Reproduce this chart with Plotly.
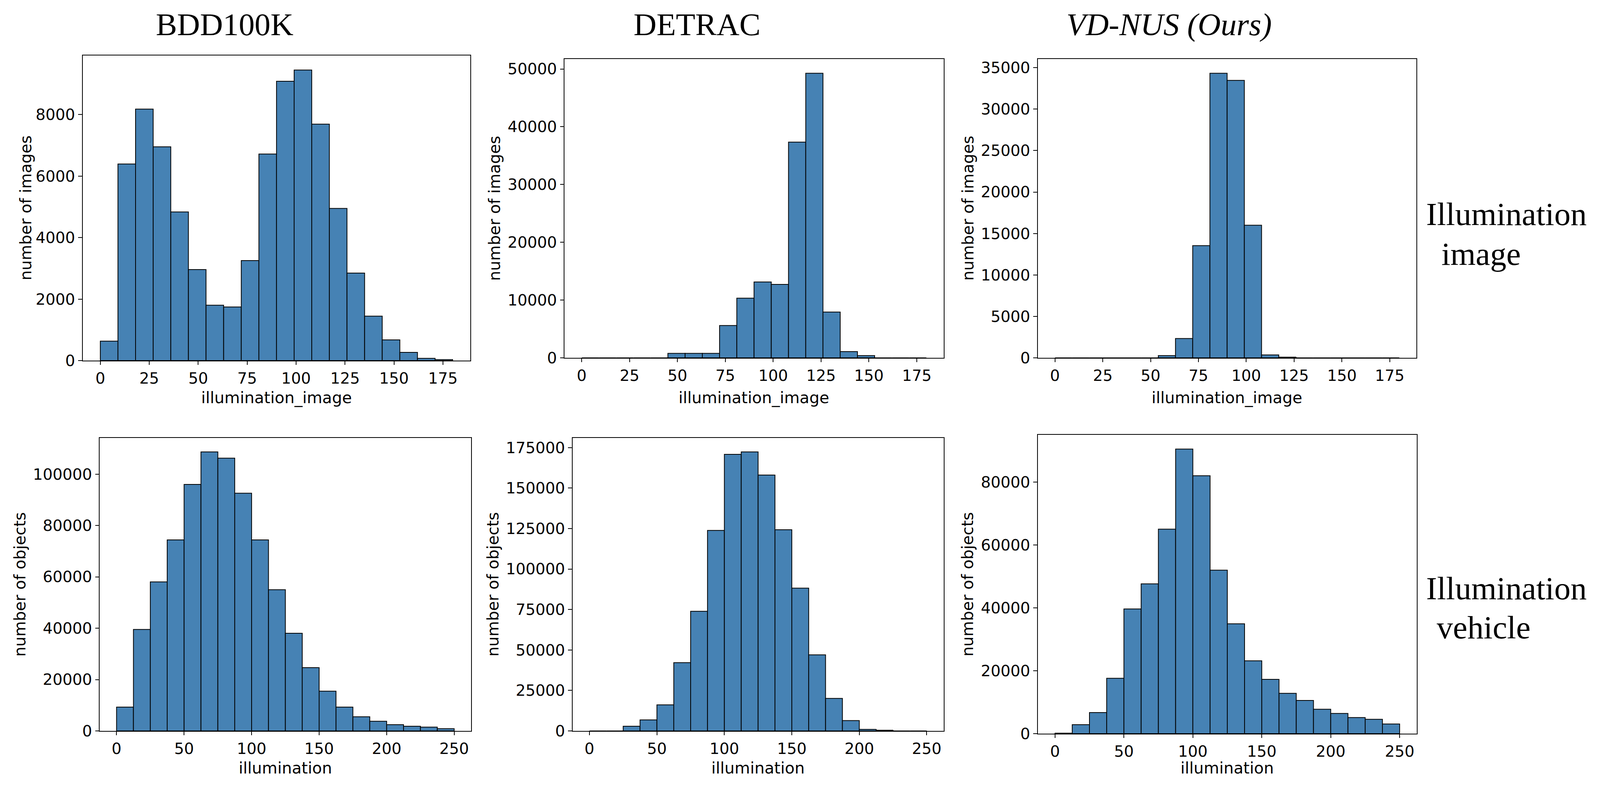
import numpy as np
import plotly.graph_objs as go

# reference picture size, used to place things as fractions of the page
W, H = 4334, 2012

# bins
IMG_BIN_START, IMG_BIN_WIDTH = 0, 9        # illumination_image: 0..180, 20 bins
OBJ_BIN_START, OBJ_BIN_WIDTH = 0, 12.5     # illumination (objects): 0..250, 20 bins

DATASETS = ["BDD100K", "DETRAC", "VD-NUS (Ours)"]

bdd_image = [633, 6394, 8179, 6953, 4836, 2961, 1801, 1744, 3254, 6718,
             9087, 9452, 7692, 4949, 2848, 1444, 673, 268, 73, 32]
detrac_image = [0, 0, 0, 0, 0, 777, 777, 777, 5594, 10334,
                13131, 12704, 37335, 49262, 7925, 1088, 388, 0, 0, 0]
vdnus_image = [0, 0, 0, 0, 0, 0, 271, 2328, 13535, 34326,
               33460, 15999, 352, 81, 0, 0, 0, 0, 0, 0]

bdd_vehicle = [9266, 39510, 58042, 74388, 95979, 108654, 106206, 92570, 74388, 54983,
               38024, 24650, 15472, 9266, 5507, 3759, 2448, 1836, 1486, 874]
detrac_vehicle = [0, 0, 2912, 6794, 16084, 42151, 73905, 123821, 170826, 172351,
                  158070, 124237, 88186, 47005, 20105, 6378, 970, 416, 0, 0]
vdnus_vehicle = [150, 2852, 6702, 17611, 39643, 47629, 65027, 90481, 81996, 51979,
                 34938, 23173, 17255, 12834, 10553, 7772, 6417, 5134, 4563, 3066]

IMG_DTICKS = [2000, 10000, 5000]
OBJ_DTICKS = [20000, 25000, 20000]


def px_x(p):
    return p / W


def px_y(p):
    return 1 - p / H


# axes boxes in pixels (left, right, top, bottom)
boxes = [
    (224, 1274, 142, 923), (1529, 2556, 151, 916), (2811, 3837, 151, 916),
    (270, 1276, 1121, 1871), (1551, 2556, 1121, 1871), (2811, 3838, 1113, 1878),
]
ytitle_x = [69, 1340, 2622, 54, 1335, 2620]

panels = [
    (bdd_image, IMG_BIN_START, IMG_BIN_WIDTH, IMG_DTICKS[0], 25, "number of images", "illumination_image"),
    (detrac_image, IMG_BIN_START, IMG_BIN_WIDTH, IMG_DTICKS[1], 25, "number of images", "illumination_image"),
    (vdnus_image, IMG_BIN_START, IMG_BIN_WIDTH, IMG_DTICKS[2], 25, "number of images", "illumination_image"),
    (bdd_vehicle, OBJ_BIN_START, OBJ_BIN_WIDTH, OBJ_DTICKS[0], 50, "number of objects", "illumination"),
    (detrac_vehicle, OBJ_BIN_START, OBJ_BIN_WIDTH, OBJ_DTICKS[1], 50, "number of objects", "illumination"),
    (vdnus_vehicle, OBJ_BIN_START, OBJ_BIN_WIDTH, OBJ_DTICKS[2], 50, "number of objects", "illumination"),
]

# sizes are in reference pixels; they get rescaled to the real window below
tick_font = dict(family="DejaVu Sans", size=42, color="black")
label_font = dict(family="DejaVu Sans", size=43, color="black")
serif_font = dict(family="Liberation Serif", size=86, color="black")
side_font = dict(family="Liberation Serif", size=88, color="black")

fig = go.Figure()
layout = dict(margin=dict(l=0, r=0, t=0, b=0), autosize=True,
              paper_bgcolor="white", plot_bgcolor="white", showlegend=False)
annotations = []

for i, (counts, start, width, dtick_y, dtick_x, ytitle, xtitle) in enumerate(panels):
    n = len(counts)
    edges = start + width * np.arange(n + 1)
    centers = (edges[:-1] + edges[1:]) / 2
    span = edges[-1] - edges[0]
    ax = "" if i == 0 else str(i + 1)

    fig.add_trace(go.Bar(
        x=centers, y=counts, width=width,
        marker=dict(color="#4682b4", line=dict(color="black", width=2)),
        xaxis="x" + ax, yaxis="y" + ax,
    ))

    l, r, t, b = boxes[i]
    common = dict(showgrid=False, zeroline=False, showline=True, mirror=True,
                  linecolor="black", linewidth=2, ticks="outside", ticklen=10,
                  tickwidth=2, tickcolor="black", tickfont=tick_font,
                  tickformat="d", automargin=False)
    layout["xaxis" + ax] = dict(common, domain=[px_x(l), px_x(r)], anchor="y" + ax,
                                range=[edges[0] - 0.05 * span, edges[-1] + 0.05 * span],
                                tick0=0, dtick=dtick_x)
    layout["yaxis" + ax] = dict(common, domain=[px_y(b), px_y(t)], anchor="x" + ax,
                                range=[0, max(counts) * 1.05], tick0=0, dtick=dtick_y)

    annotations.append(dict(text=ytitle, textangle=-90, font=label_font,
                            x=px_x(ytitle_x[i]), y=px_y((t + b) / 2), xref="paper", yref="paper",
                            xanchor="center", yanchor="middle", showarrow=False))
    annotations.append(dict(text=xtitle, font=label_font,
                            x=px_x((l + r) / 2), y=px_y(1018 if i < 3 else 1966),
                            xref="paper", yref="paper",
                            xanchor="center", yanchor="middle", showarrow=False))

# column titles
for name, cx in zip(DATASETS, [608, 1888, 3167]):
    text = "<i>%s</i>" % name if "Ours" in name else name
    annotations.append(dict(text=text, font=serif_font, x=px_x(cx), y=px_y(63),
                            xref="paper", yref="paper", xanchor="center", yanchor="middle",
                            showarrow=False))

# row labels on the right
for text, lx, cy in [("Illumination", 3861, 548), ("image", 3902, 650),
                     ("Illumination", 3861, 1506), ("vehicle", 3890, 1606)]:
    annotations.append(dict(text=text, font=side_font, x=px_x(lx), y=px_y(cy),
                            xref="paper", yref="paper", xanchor="left", yanchor="middle",
                            showarrow=False))

layout["annotations"] = annotations
fig.update_layout(**layout)

# the window may be smaller than the reference in css pixels: scale fonts and ticks
rescale = r"""
var gd = document.getElementById('{plot_id}');
var k = gd.clientWidth / %d;
var upd = {};
(gd.layout.annotations || []).forEach(function (a, i) {
    upd['annotations[' + i + '].font.size'] = a.font.size * k;
});
Object.keys(gd.layout).forEach(function (key) {
    if (/^[xy]axis\d*$/.test(key)) {
        var ax = gd.layout[key];
        upd[key + '.tickfont.size'] = ax.tickfont.size * k;
        upd[key + '.ticklen'] = ax.ticklen * k;
    }
});
Plotly.relayout(gd, upd);
""" % W

fig.write_html("out.html", config={"displayModeBar": False}, post_script=rescale,
               default_width="100vw;position:fixed;left:0;top:0",
               default_height="100vh")
